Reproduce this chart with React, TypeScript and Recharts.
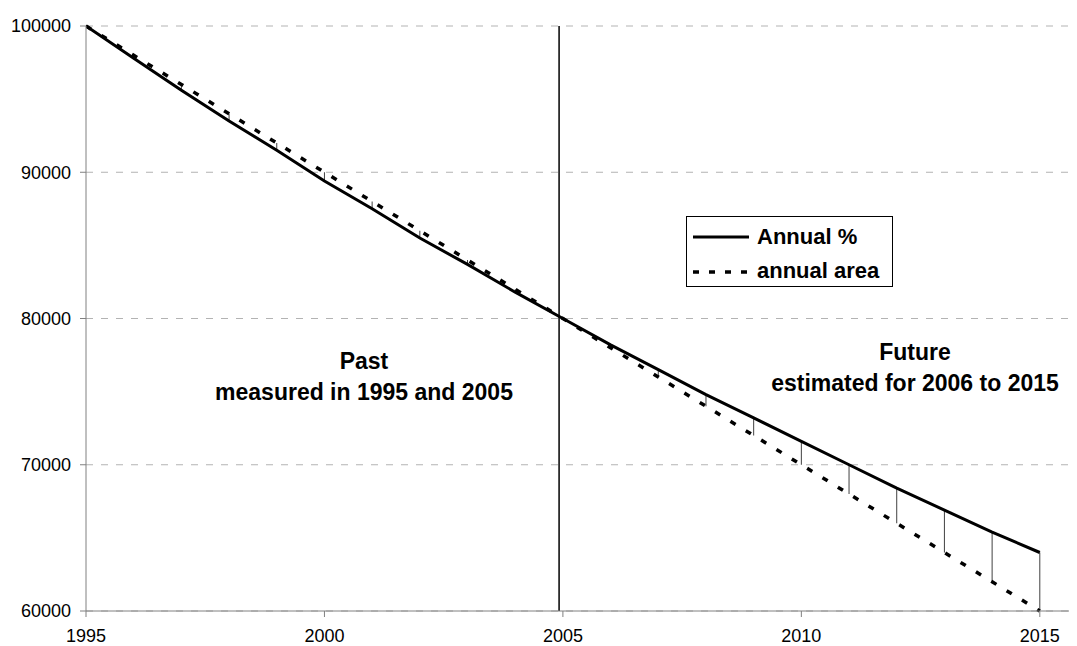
import {
    LineChart, Line, XAxis, YAxis, CartesianGrid,
    Legend, ReferenceLine, ErrorBar
} from 'recharts';

const YEARS = [
    1995, 1996, 1997, 1998, 1999, 2000, 2001, 2002, 2003, 2004, 2005,
    2006, 2007, 2008, 2009, 2010, 2011, 2012, 2013, 2014, 2015
];
// solid line: constant annual percentage loss
const ANNUAL_PCT = [
    100000, 97800, 95600, 93500, 91500, 89400, 87500, 85500, 83700, 81800, 80000,
    78200, 76500, 74800, 73200, 71600, 70000, 68400, 66900, 65400, 64000
];
// dotted line: constant annual area loss
const ANNUAL_AREA = [
    100000, 98000, 96000, 94000, 92000, 90000, 88000, 86000, 84000, 82000, 80000,
    78000, 76000, 74000, 72000, 70000, 68000, 66000, 64000, 62000, 60000
];
const X_TICKS = [1995, 2000, 2005, 2010, 2015];
const Y_TICKS = [60000, 70000, 80000, 90000, 100000];
const SPLIT_YEAR = 2004.92;

const FONT = '"Liberation Sans", Arial, sans-serif';

const data = YEARS.map((year, i) => ({
    year,
    pct: ANNUAL_PCT[i],
    area: ANNUAL_AREA[i],
    // drop line from the area value up to the percentage value
    drop: [0, ANNUAL_PCT[i] - ANNUAL_AREA[i]],
}));

const LegendBox = () => (
    <svg width={207} height={71} style={{ display: 'block' }}>
        <rect x={0.5} y={0.5} width={206} height={70} fill="#fff" stroke="#000" strokeWidth={1} />
        <line x1={7} y1={21} x2={63} y2={21} stroke="#000" strokeWidth={3} />
        <text x={71} y={28} fontFamily={FONT} fontWeight="bold" fontSize={22} fill="#000">Annual %</text>
        <line x1={7} y1={56} x2={63} y2={56} stroke="#000" strokeWidth={3.5} strokeDasharray="6 10" />
        <text x={71} y={62} fontFamily={FONT} fontWeight="bold" fontSize={22} fill="#000">annual area</text>
    </svg>
);

const noteStyle: React.CSSProperties = {
    position: 'absolute',
    transform: 'translateX(-50%)',
    textAlign: 'center',
    whiteSpace: 'nowrap',
    fontFamily: FONT,
    fontWeight: 'bold',
    fontSize: 23,
    lineHeight: '31px',
    color: '#000',
};

const App = () => {
    const tickStyle = { fontSize: 18, fill: '#000', fontFamily: FONT };
    return (
        <div style={{ position: 'relative', width: 1069, height: 638 }}>
            <LineChart width={1069} height={638} data={data} margin={{ top: 18, right: 0, left: 0, bottom: 0 }}>
                <CartesianGrid vertical={false} stroke="#b3b3b3" strokeDasharray="7 8" />
                <XAxis
                    dataKey="year"
                    type="number"
                    domain={[1995, 2015.78]}
                    ticks={X_TICKS}
                    allowDataOverflow
                    height={35}
                    tick={tickStyle}
                    tickSize={6}
                    tickMargin={12}
                    stroke="#808080"
                />
                <YAxis
                    type="number"
                    domain={[60000, 100000]}
                    ticks={Y_TICKS}
                    width={78}
                    tick={tickStyle}
                    tickSize={6}
                    tickMargin={9}
                    stroke="#808080"
                />
                <ReferenceLine x={SPLIT_YEAR} stroke="#000" strokeWidth={1.5} />
                <Line
                    type="linear"
                    dataKey="area"
                    name="annual area"
                    stroke="#000"
                    strokeWidth={3.5}
                    strokeDasharray="6 12"
                    dot={false}
                    isAnimationActive={false}
                >
                    <ErrorBar dataKey="drop" direction="y" width={0} stroke="#404040" strokeWidth={1} isAnimationActive={false} />
                </Line>
                <Line
                    type="linear"
                    dataKey="pct"
                    name="Annual %"
                    stroke="#000"
                    strokeWidth={3}
                    dot={false}
                    isAnimationActive={false}
                />
                <Legend
                    layout="horizontal"
                    verticalAlign="middle"
                    content={() => <LegendBox />}
                    wrapperStyle={{ left: 678, top: 208, width: 207, height: 71 }}
                />
            </LineChart>
            <div style={{ ...noteStyle, left: 356, top: 338 }}>
                Past<br />measured in 1995 and 2005
            </div>
            <div style={{ ...noteStyle, left: 907, top: 329 }}>
                Future<br />estimated for 2006 to 2015
            </div>
        </div>
    );
};

export default App;
